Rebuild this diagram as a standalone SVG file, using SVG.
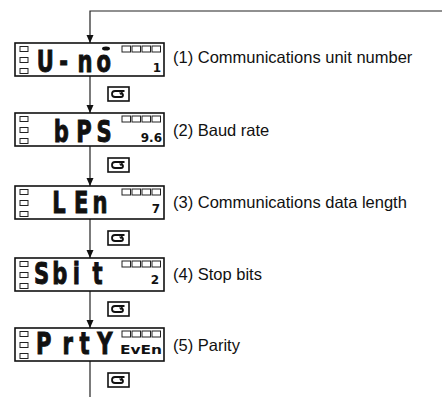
<svg xmlns="http://www.w3.org/2000/svg" xmlns:xlink="http://www.w3.org/1999/xlink" width="442" height="397" viewBox="0 0 442 397">
<style>
.disp{fill:#fff;stroke:#111;stroke-width:1.6}
.sq{fill:#fff;stroke:#222;stroke-width:1}
.seg{font-family:"DejaVu Sans",sans-serif;font-weight:bold;font-size:31px;fill:#111;stroke:#111;stroke-width:1}
.sm{font-family:"DejaVu Sans",sans-serif;font-weight:bold;font-size:12px;fill:#111}
.lbl{font-family:"Liberation Sans",Arial,sans-serif;font-size:16.5px;fill:#111}
.con{fill:none;stroke:#222;stroke-width:1.2}
.btn{fill:#fff;stroke:#111;stroke-width:1.6}
.glyph{fill:none;stroke:#111;stroke-width:1.8}
</style>
<defs>
<marker id="ah" viewBox="0 0 8 8" refX="8" refY="4" markerWidth="8" markerHeight="8" orient="auto" markerUnits="userSpaceOnUse"><path d="M0,0.5 L8,4 L0,7.5 z" fill="#111"/></marker>
<g id="panel">
<rect class="disp" x="15" y="0" width="149" height="33"/>
<rect class="sq" x="20" y="3.5" width="8" height="5"/>
<rect class="sq" x="20" y="14.5" width="8" height="5"/>
<rect class="sq" x="20" y="25.5" width="8" height="5"/>
<rect class="sq" x="122" y="3" width="8.5" height="6"/>
<rect class="sq" x="132" y="3" width="8.5" height="6"/>
<rect class="sq" x="142" y="3" width="8.5" height="6"/>
<rect class="sq" x="152" y="3" width="8.5" height="6"/>
</g>
<g id="btn">
<rect class="btn" x="108" y="0" width="21" height="14"/>
<path class="glyph" d="M124.5,4 H115 A3,3 0 0 0 115,10 H121 A2,2 0 0 0 121,6"/>
<path d="M119,5.5 L123,5.5 L121,8.5 z" fill="#111"/>
</g>
</defs>
<g id="connectors">
<path class="con" d="M442,11 H90 V43" marker-end="url(#ah)"/>
<path class="con" d="M90,76 V113" marker-end="url(#ah)"/>
<path class="con" d="M90,146 V186" marker-end="url(#ah)"/>
<path class="con" d="M90,219 V258" marker-end="url(#ah)"/>
<path class="con" d="M90,291 V328" marker-end="url(#ah)"/>
<path class="con" d="M90,361 V397"/>
</g>
<g id="node1">
<use xlink:href="#panel" x="0" y="43"/>
<text class="seg" transform="translate(0,72) scale(0.68,1)" x="54 87 114 142" y="0">U-no</text>
<ellipse cx="106" cy="48.5" rx="4" ry="2" fill="#111"/>
<text class="sm" x="161" y="72" text-anchor="end">1</text>
<text class="lbl" x="173" y="63">(1) Communications unit number</text>
</g>
<g id="key1"><use xlink:href="#btn" x="0" y="87"/></g>
<g id="node2">
<use xlink:href="#panel" x="0" y="113"/>
<text class="seg" transform="translate(0,142) scale(0.68,1)" x="79 112 142" y="0">bPS</text>
<text class="sm" x="162" y="142" text-anchor="end">9.6</text>
<text class="lbl" x="173" y="136">(2) Baud rate</text>
</g>
<g id="key2"><use xlink:href="#btn" x="0" y="158"/></g>
<g id="node3">
<use xlink:href="#panel" x="0" y="186"/>
<text class="seg" transform="translate(0,213) scale(0.68,1)" x="77 109 136" y="0">LEn</text>
<text class="sm" x="160" y="213" text-anchor="end">7</text>
<text class="lbl" x="173" y="208">(3) Communications data length</text>
</g>
<g id="key3"><use xlink:href="#btn" x="0" y="231"/></g>
<g id="node4">
<use xlink:href="#panel" x="0" y="258"/>
<text class="seg" transform="translate(0,284) scale(0.68,1)" x="50 77 107 136" y="0">Sbit</text>
<text class="sm" x="159" y="284" text-anchor="end">2</text>
<text class="lbl" x="173" y="280">(4) Stop bits</text>
</g>
<g id="key4"><use xlink:href="#btn" x="0" y="302"/></g>
<g id="node5">
<use xlink:href="#panel" x="0" y="328"/>
<text class="seg" transform="translate(0,354) scale(0.68,1)" x="53 92 117 143" y="0">PrtY</text>
<text class="sm" x="120" y="354" textLength="42" lengthAdjust="spacingAndGlyphs">EvEn</text>
<text class="lbl" x="173" y="351">(5) Parity</text>
</g>
<g id="key5"><use xlink:href="#btn" x="0" y="373"/></g>
</svg>
